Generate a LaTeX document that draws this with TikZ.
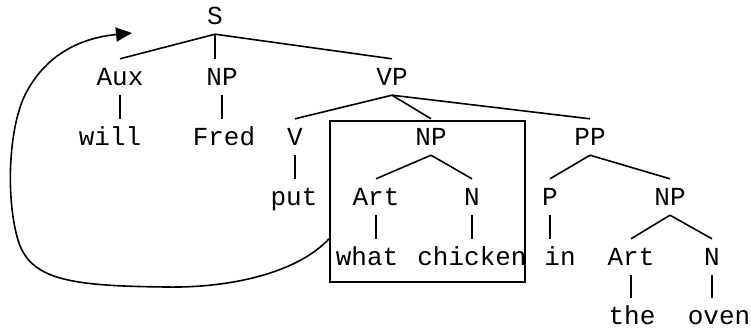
\documentclass[tikz,border=0pt]{standalone}
\usepackage{fontspec}
\usepackage{tikz}
\usetikzlibrary{arrows.meta,calc}
\newfontfamily\treefont{Liberation Mono}
\definecolor{Ink}{HTML}{000000}
\tikzset{
  word/.style={font=\treefont\fontsize{26}{30}\selectfont, text=Ink, inner sep=0pt,
               text height=26pt, text depth=10pt, anchor=base},
  branch/.style={draw=Ink, line width=1.6pt},
  movebox/.style={draw=Ink, line width=1.9pt, minimum width=195pt, minimum height=161pt,
                  inner sep=0pt},
  movearrow/.style={draw=Ink, line width=1.6pt, -{Triangle[length=16pt,width=14pt]}},
}

\begin{document}
\begin{tikzpicture}[x=1pt,y=-1pt]
  \useasboundingbox (0,0) rectangle (751,330);
  % words, row by row
  \node[word] (s) at (215,24) {S};
  \node[word] (aux) at (120,85) {Aux};
  \node[word] (npsubj) at (222,85) {NP};
  \node[word] (vp) at (392,85) {VP};
  \node[word] (will) at (110,145) {will};
  \node[word] (fred) at (224,145) {Fred};
  \node[word] (v) at (295,145) {V};
  \node[word] (npobj) at (431,145) {NP};
  \node[word] (pp) at (590,145) {PP};
  \node[word] (put) at (294,205) {put};
  \node[word] (artwh) at (376,205) {Art};
  \node[word] (nwh) at (472,205) {N};
  \node[word] (p) at (550,205) {P};
  \node[word] (nploc) at (670,205) {NP};
  \node[word] (what) at (367,265) {what};
  \node[word] (chicken) at (472,265) {chicken};
  \node[word] (inw) at (560,265) {in};
  \node[word] (artloc) at (631,265) {Art};
  \node[word] (nloc) at (712,265) {N};
  \node[word] (the) at (632,324) {the};
  \node[word] (oven) at (719,324) {oven};
  % branches
  \draw[branch] (s.south) -- (aux.north);
  \draw[branch] (s.south) -- (s.south |- npsubj.north);
  \draw[branch] (s.south) -- (vp.north);
  \draw[branch] (aux.south) -- (aux.south |- will.north);
  \draw[branch] (npsubj.south) -- (npsubj.south |- fred.north);
  \draw[branch] (vp.south) -- (v.north);
  \draw[branch] (vp.south) -- (npobj.north);
  \draw[branch] (vp.south) -- (pp.north);
  \draw[branch] (v.south) -- (v.south |- put.north);
  \draw[branch] (npobj.south) -- (artwh.north);
  \draw[branch] (npobj.south) -- (nwh.north);
  \draw[branch] (artwh.south) -- (artwh.south |- what.north);
  \draw[branch] (nwh.south) -- (nwh.south |- chicken.north);
  \draw[branch] (pp.south) -- (p.north);
  \draw[branch] (pp.south) -- (nploc.north);
  \draw[branch] (p.south) -- (p.south |- inw.north);
  \draw[branch] (nploc.south) -- (artloc.north);
  \draw[branch] (nploc.south) -- (nloc.north);
  \draw[branch] (artloc.south) -- (artloc.south |- the.north);
  \draw[branch] (nloc.south) -- (nloc.south |- oven.north);
  % moved phrase and its path back to the front
  \node[movebox] (box) at (427.5,201.5) {};
  \coordinate (landing) at (132,33);
  \draw[movearrow] (box.west |- what.north)
    .. controls (295,275) and (225,288) .. (167,287)
    .. controls (70,286) and (30,280) .. (18,240)
    .. controls (6,200) and (8,130) .. (25,95)
    .. controls (45,55) and (80,38) .. (landing);
\end{tikzpicture}
\end{document}
